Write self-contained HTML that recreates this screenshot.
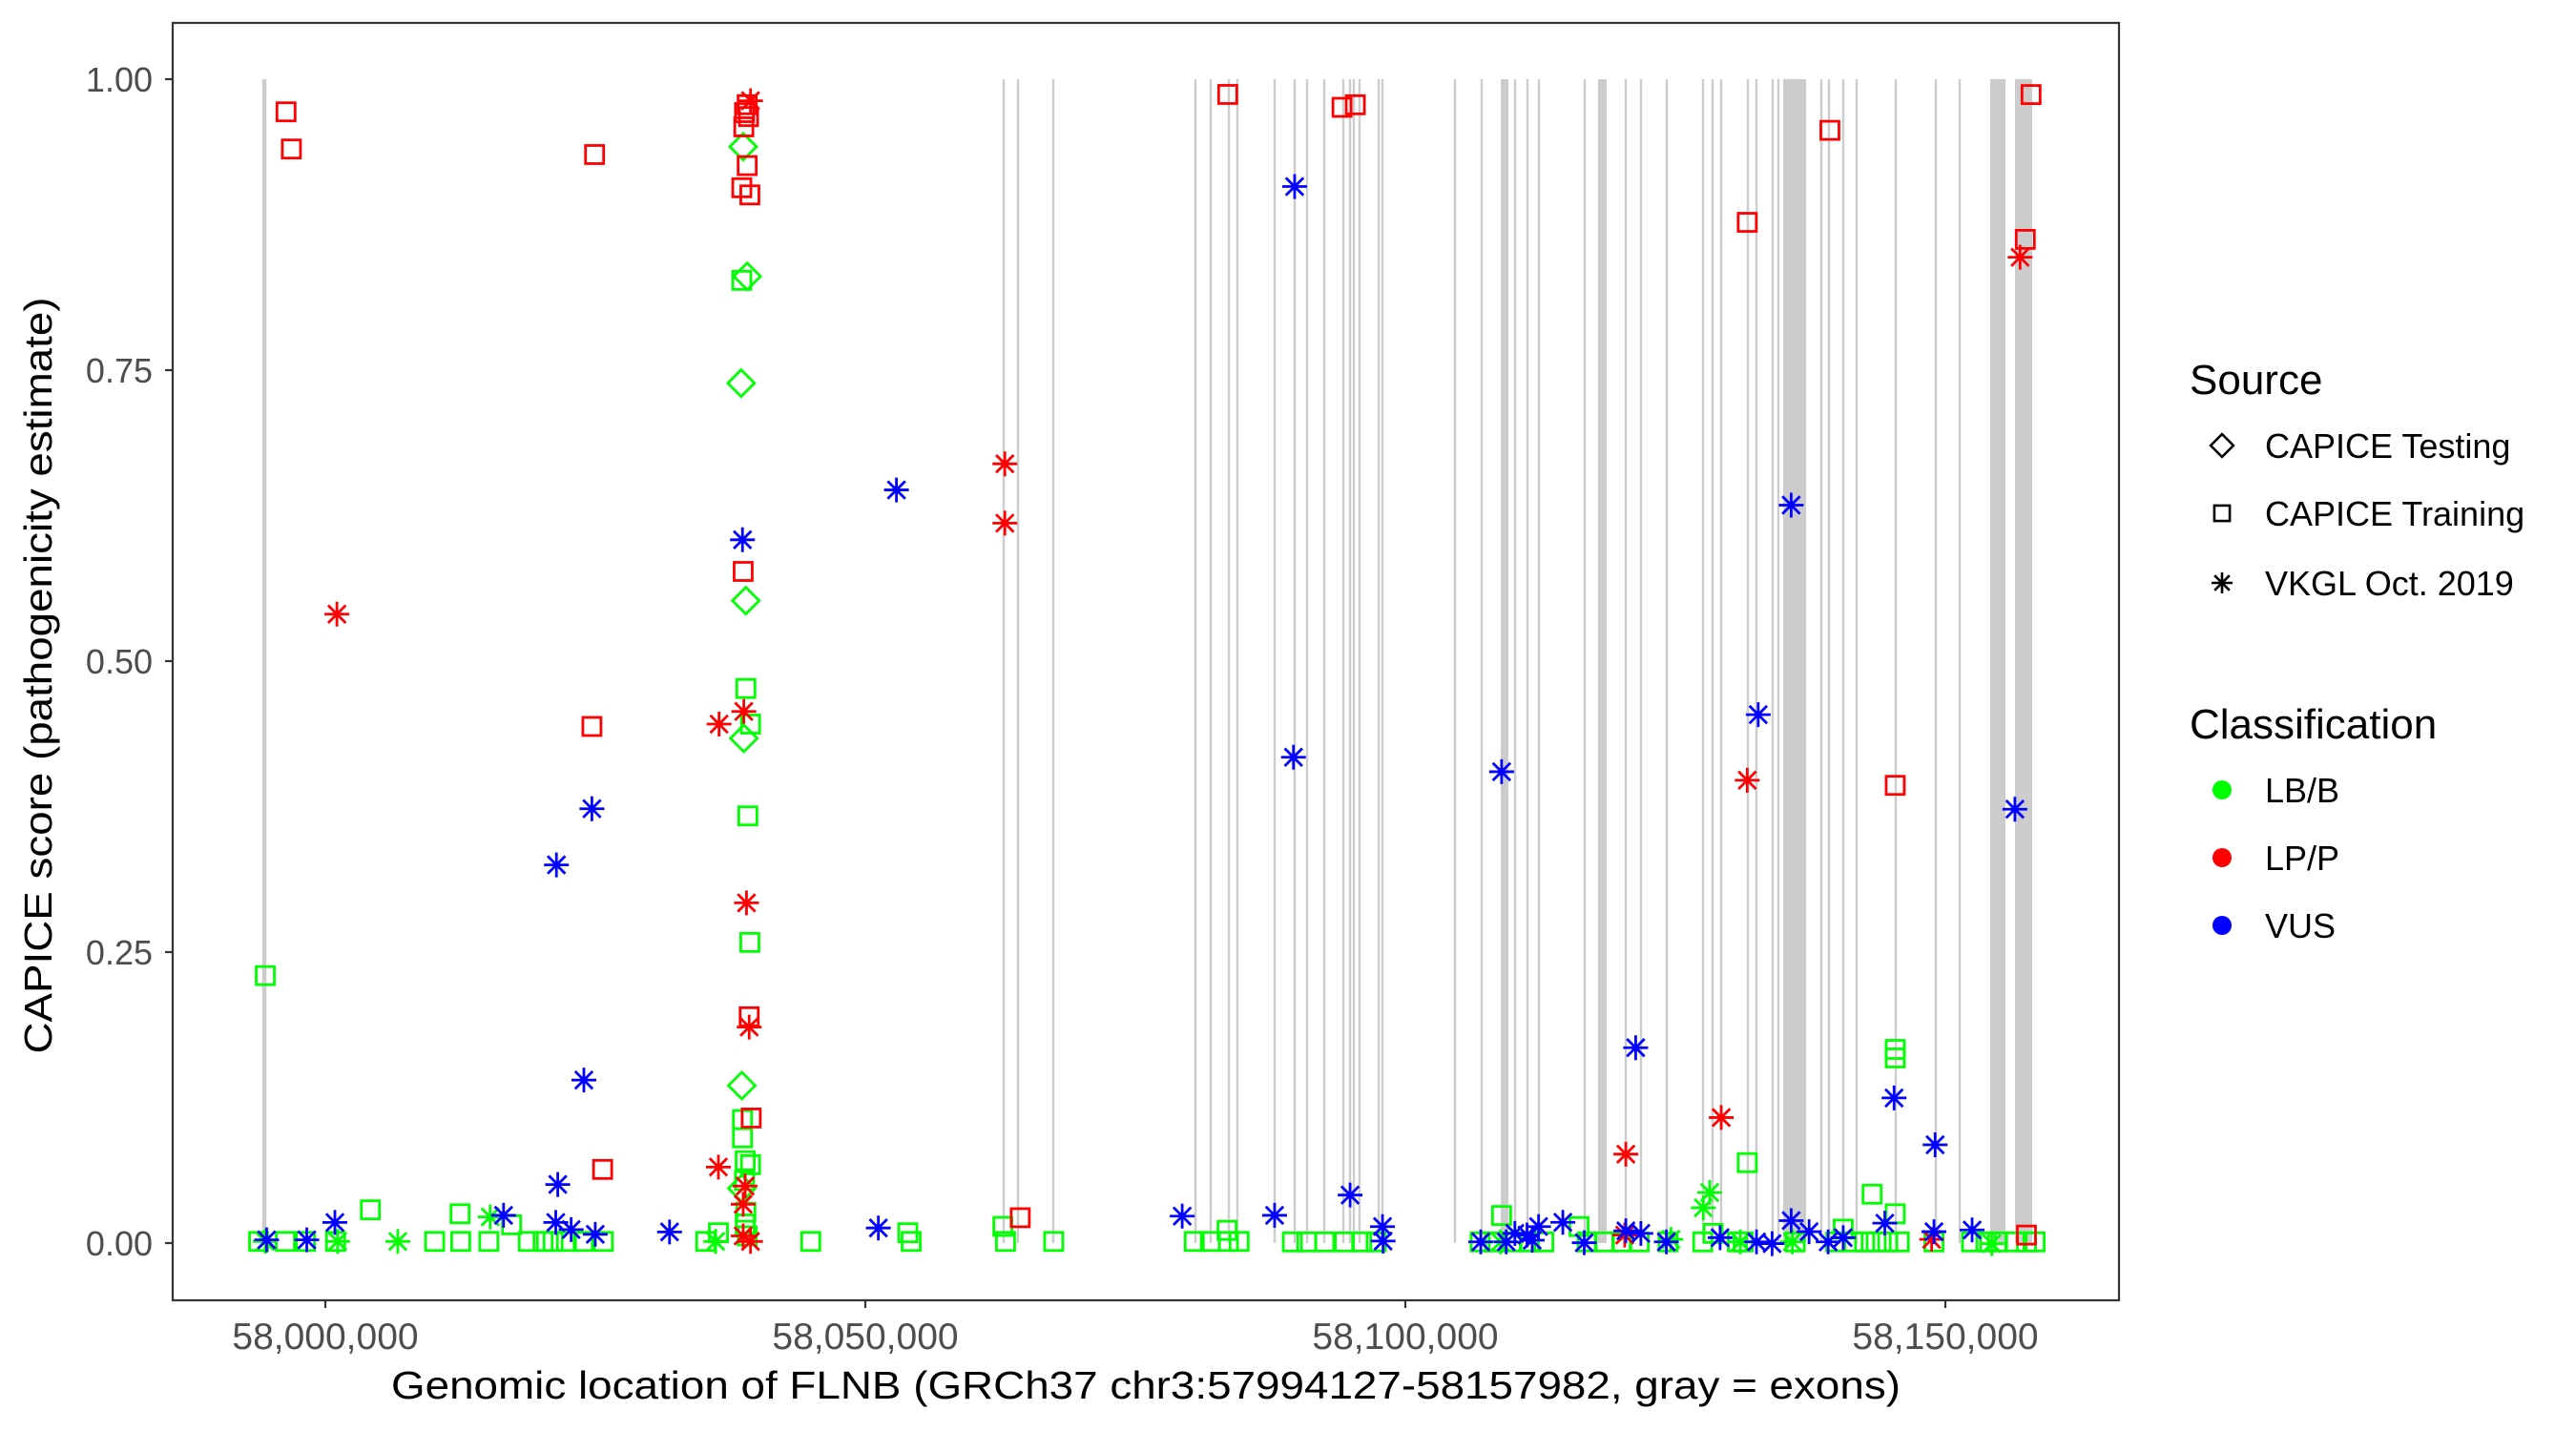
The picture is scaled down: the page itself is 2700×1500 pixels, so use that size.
<!DOCTYPE html>
<html><head><meta charset="utf-8"><style>
html,body{margin:0;padding:0;background:#fff}
svg{display:block;font-family:"Liberation Sans",Arial,sans-serif}
</style></head><body>
<svg id="s" width="2700" height="1500" viewBox="0 0 2700 1500" xmlns="http://www.w3.org/2000/svg">
<rect width="2700" height="1500" fill="#fff"/>
<g id="ex"></g>
<g id="pts" fill="none" stroke-width="2.8"></g>
<rect x="181" y="24" width="2040" height="1339" fill="none" stroke="#333" stroke-width="2.2"/>
<g stroke="#333" stroke-width="2.2">
<line x1="173" y1="83" x2="181" y2="83"/><line x1="173" y1="388" x2="181" y2="388"/><line x1="173" y1="693" x2="181" y2="693"/><line x1="173" y1="998" x2="181" y2="998"/><line x1="173" y1="1303" x2="181" y2="1303"/>
<line x1="341" y1="1363" x2="341" y2="1371"/><line x1="907" y1="1363" x2="907" y2="1371"/><line x1="1473" y1="1363" x2="1473" y2="1371"/><line x1="2039" y1="1363" x2="2039" y2="1371"/>
</g>
<g fill="#4d4d4d" font-size="36" text-anchor="end">
<text x="160" y="96">1.00</text><text x="160" y="401">0.75</text><text x="160" y="706">0.50</text><text x="160" y="1011">0.25</text><text x="160" y="1316">0.00</text>
</g>
<g fill="#4d4d4d" font-size="39" text-anchor="middle">
<text x="341" y="1414">58,000,000</text><text x="907" y="1414">58,050,000</text><text x="1473" y="1414">58,100,000</text><text x="2039" y="1414">58,150,000</text>
</g>
<text x="1201" y="1466" font-size="41" text-anchor="middle" textLength="1582" lengthAdjust="spacingAndGlyphs">Genomic location of FLNB (GRCh37 chr3:57994127-58157982, gray = exons)</text>
<text transform="translate(54,708) rotate(-90)" font-size="41" text-anchor="middle" textLength="793" lengthAdjust="spacingAndGlyphs">CAPICE score (pathogenicity estimate)</text>
<g font-size="44"><text x="2295" y="413">Source</text><text x="2295" y="774">Classification</text></g>
<g font-size="36">
<text x="2374" y="480">CAPICE Testing</text><text x="2374" y="551">CAPICE Training</text><text x="2374" y="624">VKGL Oct. 2019</text>
<text x="2374" y="841">LB/B</text><text x="2374" y="912">LP/P</text><text x="2374" y="983">VUS</text>
</g>
<g id="leg" fill="none" stroke="#000" stroke-width="2.6"></g>
<circle cx="2329" cy="828" r="10" fill="#00ff00"/><circle cx="2329" cy="899" r="10" fill="#ff0000"/><circle cx="2329" cy="970" r="10" fill="#0000ff"/>
</svg>
<script>
var NS="http://www.w3.org/2000/svg";
function el(p,t,a){var e=document.createElementNS(NS,t);for(var k in a)e.setAttribute(k,a[k]);p.appendChild(e);return e;}
var ex=document.getElementById('ex');
var thin=[276,1052,1067,1104,1253,1269,1288,1297,1336,1357,1370,1388,1408,1415,1419,1425,1445,1449,1525,1553,1588,1601,1613,1661,1704,1720,1747,1785,1795,1804,1832,1841,1858,1864,1909,1917,1932,1946,1987,2029,2054];
thin.forEach(function(x,i){el(ex,'rect',{x:x-1.2,y:83,width:(i==0?4.5:2.4),height:1220,fill:'#cccccc'});});
[[1573,1581],[1675,1684],[1869,1893],[2086,2102],[2112,2130]].forEach(function(r){el(ex,'rect',{x:r[0],y:83,width:r[1]-r[0],height:1220,fill:'#cccccc'});});
var C={g:'#00ff00',r:'#ff0000',b:'#0000ff'};
function mk(p,t,x,y,c,k){k=k||1;
 if(t=='s'){var h=9.5*k;el(p,'rect',{x:x-h,y:y-h,width:2*h,height:2*h,stroke:c});}
 else if(t=='d'){var d=14*k;el(p,'path',{d:'M'+x+' '+(y-d)+'L'+(x+d)+' '+y+'L'+x+' '+(y+d)+'L'+(x-d)+' '+y+'Z',stroke:c});}
 else{var r=13*k,q=9.2*k;el(p,'path',{d:'M'+x+' '+(y-r)+'V'+(y+r)+'M'+(x-r)+' '+y+'H'+(x+r)+'M'+(x-q)+' '+(y-q)+'L'+(x+q)+' '+(y+q)+'M'+(x-q)+' '+(y+q)+'L'+(x+q)+' '+(y-q),stroke:c});}
}
var P=document.getElementById('pts');
function A(t,c,list){list.forEach(function(p){mk(P,t,250+p[0]/1.4255,60+p[1]/1.206,C[c]);});}
function B(t,c,list){list.forEach(function(p){mk(P,t,1300+p[0]/1.6505,p[1]/1.12,C[c]);});}
var bot6=[30,70,100,145,293,332,374,433,455,470,490,515,545,698,855,1005,1146,1218,1428,1452,1479,1495].map(function(x){return [x,1497];});
A('s','g',[[752,282],[758,798],[765,843],[761,959],[764,1119],[40,1161],[753,1343],[753,1366],[757,1395],[765,1400],[756,1420],[758,1460],[757,1475],[760,1490],[197,1457],[331,1462],[408,1476],[717,1486],[1000,1486],[1142,1478],[1477,1483]].concat(bot6));
var bot5=[90,115,146,180,210,235,415,440,470,500,525,600,630,660,690,740,800,860,870,960,1030,1060,1080,1100,1120,1140,1200,1265,1290,1310,1340,1360,1375].map(function(x){return [x,1458];});
B('s','g',[[452,1427],[877,1365],[1093,1402],[1133,1232],[1133,1242],[1133,1425],[586,1440],[818,1448],[1043,1443]].concat(bot5));
A('d','g',[[754,113],[760,277],[751,412],[758,687],[755,861],[752,1300],[752,1430]]);
A('a','g',[[40,1497],[148,1497],[238,1497],[376,1466],[713,1497]]);
B('a','g',[[801,1418],[812,1400],[450,1458],[865,1458],[955,1458],[745,1455],[1300,1460]]);
A('s','r',[[71,69],[79,116],[532,123],[1478,47],[760,60],[756,70],[762,75],[755,88],[760,137],[752,165],[764,174],[754,650],[528,846],[544,1406],[763,1213],[766,1341],[1168,1467]]);
B('s','r',[[176,126],[199,123],[1020,153],[877,261],[1368,111],[1358,281],[1133,922],[1360,1450]]);
A('a','r',[[765,55],[1145,514],[1145,589],[147,704],[718,843],[755,827],[759,1069],[763,1226],[717,1403],[757,1427],[754,1450],[754,1490],[765,1497]]);
B('a','r',[[1349,302],[877,916],[832,1312],[667,1355],[665,1450],[1196,1455]]);
A('a','b',[[42,1495],[102,1495],[144,1473],[983,547],[753,610],[528,950],[475,1021],[516,1293],[477,1425],[396,1464],[474,1473],[497,1482],[533,1488],[644,1485],[956,1480],[1410,1465],[1548,1464]]);
B('a','b',[[94,219],[92,889],[452,906],[953,593],[896,839],[1340,950],[684,1230],[1131,1289],[1202,1344],[190,1403],[246,1440],[247,1457],[416,1458],[475,1448],[496,1450],[516,1440],[558,1435],[595,1459],[667,1445],[693,1448],[737,1458],[830,1453],[893,1458],[920,1460],[953,1433],[984,1446],[1017,1458],[1043,1453],[1115,1436],[1200,1446],[1266,1444],[460,1458],[505,1456]]);
var L=document.getElementById('leg');
mk(L,'d',2329,467,'#000',0.85);mk(L,'s',2329,538,'#000',0.85);mk(L,'a',2329,611,'#000',0.85);
</script>
</body></html>
